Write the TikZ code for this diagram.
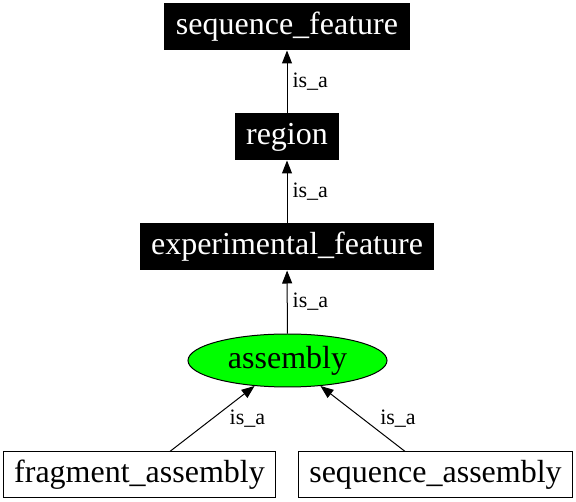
\documentclass[tikz,border=0pt]{standalone}
\usepackage{fontspec}
\setmainfont{Liberation Serif}
\usetikzlibrary{arrows.meta, shapes.geometric}
\definecolor{asmgreen}{RGB}{0,255,0}

\begin{document}
\begin{tikzpicture}[x=1pt, y=-1pt,
    term/.style={draw, line width=1pt, minimum height=46pt, inner xsep=11pt, font=\fontsize{32}{38}\selectfont},
    dark/.style={term, fill=black, text=white},
    light/.style={term, fill=white},
    isa/.style={line width=1pt, -{Triangle[length=13pt, width=10pt]}},
    lbl/.style={midway, anchor=west, inner sep=5pt, font=\fontsize{22}{26}\selectfont}]
  \useasboundingbox (0,0) rectangle (576,502);
  \node[dark] (seqfeat) at (287,27) {sequence\_feature};
  \node[dark] (region) at (287,137) {region};
  \node[dark] (expfeat) at (287,247) {experimental\_feature};
  \node[ellipse, draw, line width=1pt, fill=asmgreen, minimum width=199pt, minimum height=53pt, inner sep=0pt,
        font=\fontsize{32}{38}\selectfont] (assembly) at (287.5,360.5) {assembly};
  \node[light] (fragasm) at (139.5,475) {fragment\_assembly};
  \node[light] (seqasm) at (435.5,475) {sequence\_assembly};
  \foreach \a/\b in {region/seqfeat, expfeat/region, assembly/expfeat}
      \draw[isa] (\a) -- node[lbl] {is\_a} (\b);
  \foreach \a in {fragasm, seqasm}
      \draw[isa] (\a) -- node[lbl, xshift=12pt] {is\_a} (assembly);
\end{tikzpicture}
\end{document}
